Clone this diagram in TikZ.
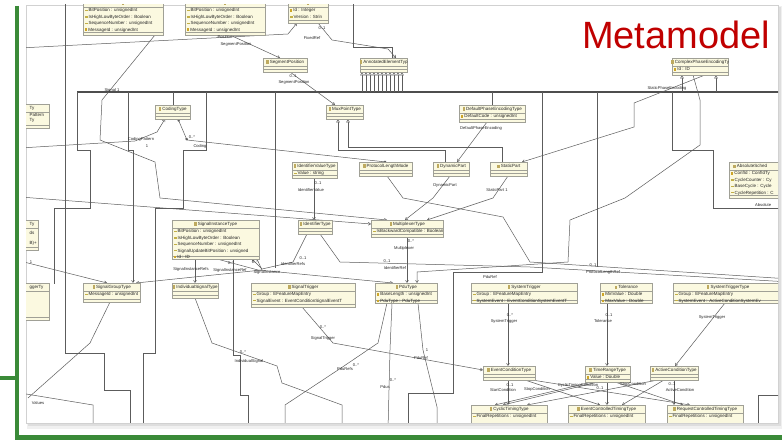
\documentclass[tikz,border=0pt]{standalone}
\usepackage{fontspec}
\setmainfont{Liberation Sans}
\usetikzlibrary{arrows.meta,calc}
\definecolor{greenA}{RGB}{58,138,56}
\definecolor{mtitle}{RGB}{192,0,0}
\definecolor{boxfill}{RGB}{251,249,224}
\definecolor{boxline}{RGB}{160,160,150}
\definecolor{conn}{RGB}{92,92,92}
\definecolor{attric}{RGB}{195,175,70}
\definecolor{keyic}{RGB}{205,165,40}
\definecolor{clsic}{RGB}{190,170,95}
\newcommand\attrI{{\color{attric}\rule[0.7pt]{2.4pt}{1.3pt}}\hspace{1pt}}
\newcommand\keyI{{\color{keyic}\rule[0.2pt]{2.2pt}{2.4pt}}\hspace{1pt}}
\newcommand\clsI{{\color{clsic}\rule[-0.3pt]{2.4pt}{3.3pt}}\hspace{1.2pt}}
\newcommand\clsbare[5]{%
  \node[clsbox, minimum width=#4pt, minimum height=#5pt] (#1) at (#2,#3) {};
  \draw[clssep] ($(#1.north west)+(0,8.3)$) -- ($(#1.north east)+(0,8.3)$);
  \draw[clssep] ($(#1.south west)+(0,-2.8)$) -- ($(#1.south east)+(0,-2.8)$);
}
\newcommand\cls[7]{%
  \clsbare{#1}{#2}{#3}{#4}{#5}
  \node[clstitle] (#1t) at ($(#1.north)+(0,4.2)$) {\clsI #6};
  \node[clsattr] (#1a) at ($(#1.north west)+(2,9.4)$) {#7};
}
\newcommand\lab[4]{\node[lbl] (#1) at (#2,#3) {#4};}
\begin{document}
\begin{tikzpicture}[x=1pt,y=-1pt,
 clsbox/.style={draw=boxline, fill=boxfill, anchor=north west, inner sep=0pt, line width=0.4pt},
 clssep/.style={draw=boxline, line width=0.3pt},
 clstitle/.style={inner sep=0pt, font=\fontsize{4.5}{5}\selectfont, text=black!85},
 clsattr/.style={anchor=north west, inner sep=0pt, align=left, font=\fontsize{4.5}{6.4}\selectfont, text=black!85},
 cn/.style={draw=conn, line width=0.5pt},
 ar/.style={cn, -{Straight Barb[length=2.3pt,width=2.9pt]}},
 gen/.style={cn, -{Triangle[open,fill=white,length=3.4pt,width=3.6pt]}},
 lbl/.style={inner sep=0pt, font=\fontsize{4.1}{4.5}\selectfont, text=black!85},
 bus/.style={draw=conn!85!black, line width=1.1pt}]
\useasboundingbox (0,0) rectangle (782,443);
\fill[white] (0,0) rectangle (782,443);
% panel with shadow
\fill[black!6] (27,6) rectangle (782,429);
\fill[black!13] (28,7) rectangle (780.5,426.5);
\fill[white] (26,5) rectangle (778,423);
\draw[black!18, line width=0.4pt] (26,5) rectangle (778,423);
\begin{scope}
\clip (26,5) rectangle (778,423);
% free ends
\coordinate (e1) at (20,48);
\coordinate (e3) at (20,197);
\coordinate (e4) at (20,148);
\coordinate (e10) at (353,0);
\coordinate (e29) at (790,279);
\coordinate (e33) at (790,282);
\coordinate (e38) at (20,261);
\coordinate (e39) at (28,398);
\coordinate (e40) at (20,393);
\coordinate (busL) at (77,92);
\coordinate (busR) at (790,92);
\coordinate (j5) at (187,140);
% ---------- connectors ----------
\draw[bus] (busL) -- (busR);
\foreach \k in {362,366,...,402} \draw[gen] (\k,92) -- (\k,72);
\draw[gen] (682,92) -- (682,75);
\draw[gen] (716,92) -- (716,75);
\draw[cn] (busL) -- (77,150) -- (90,150) -- (90,208) -- (54,208) -- (54,284);
\draw[ar] (128,92) -- (128,150) -- (133,150) -- (133,283);
\draw[cn] (173,92) -- (173,105);
\draw[cn] (206,92) -- (206,150) -- (183,150) -- (183,208) -- (155,208) -- (155,353) -- (143,353) -- (143,430);
\draw[cn] (275,92) -- (275,268);
\draw[cn] (492,92) -- (492,105);
\draw[cn] (542,92) -- (542,272) -- (453,272) -- (453,393) -- (408,393) -- (408,430);
\draw[cn] (597,92) -- (597,267);
\draw[cn] (672,92) -- (672,150) -- (713,150) -- (713,208) -- (790,208);
\draw[cn] (65,0) -- (65,353) -- (104,353) -- (104,390) -- (130,390) -- (130,430);
\draw[ar] (e1) -- (288,34) -- (297,23);
\draw[ar] (155,35) -- (102,100) -- (100,140) -- (155,162) -- (160,198) -- (387,220);
\draw[ar] (e3) -- (371,224);
\draw[ar] (e4) -- (135,141) -- (157,132) -- (165,119);
\draw[cn,{Diamond[length=3.2pt,width=2.4pt]}-{Square[length=2pt,width=2pt]}] (178,119) -- (j5);
\draw[cn,-{Square[length=2pt,width=2pt]}] (j5) -- (386,162);
\draw[ar] (230,35) -- (280,58);
\draw[ar] (290,72) -- (335,105);
\draw[ar] (318,23) -- (332,40) -- (388,49) -- (396,58);
\draw[cn] (e10) -- (353,47) -- (392,47) -- (392,58);
\draw[gen] (445,162) -- (445,150) -- (338,150) -- (338,119);
\draw[gen] (502,162) -- (502,147) -- (348,147) -- (348,119);
\draw[ar] (487,122) -- (457,162);
\draw[ar] (705,75) -- (634,103) -- (634,127) -- (522,162);
\draw[ar] (693,75) -- (700,100) -- (700,145) -- (625,198) -- (570,220) -- (568,262) -- (417,272) -- (417,283);
\draw[ar] (314,178) -- (314,220);
\draw[cn] (387,176) -- (403,198) -- (503,217) -- (530,262) -- (e29);
\draw[ar] (450,176) -- (433,198) -- (405,220);
\draw[ar] (508,176) -- (493,198) -- (427,220);
\draw[ar] (407,237) -- (407,283);
\draw[cn] (320,234) -- (340,262) -- (530,267) -- (e33);
\draw[ar] (307,234) -- (293,262) -- (262,269) -- (252,259);
\draw[ar] (217,259) -- (258,270) -- (393,283);
\draw[ar] (257,259) -- (262,270) -- (136,283);
\draw[ar] (195,259) -- (195,283);
\draw[ar] (e38) -- (107,283);
\draw[cn] (110,302) -- (90,343) -- (e39);
\draw[cn] (e40) -- (93,405) -- (93,430);
\draw[cn] (195,298) -- (212,343) -- (277,366) -- (282,383) -- (342,405) -- (342,430);
\draw[cn] (233,259) -- (233,355) -- (240,355) -- (240,395) -- (248,395) -- (248,430);
\draw[ar] (302,307) -- (333,343) -- (483,370);
\draw[cn] (387,303) -- (378,343) -- (341,368) -- (285,405) -- (285,430);
\draw[cn] (392,303) -- (390,350) -- (388,430);
\draw[cn] (418,303) -- (423,350) -- (437,407) -- (437,430);
\draw[ar] (508,303) -- (508,366);
\draw[ar] (607,303) -- (607,366);
\draw[ar] (725,303) -- (675,366);
\draw[ar] (508,380) -- (508,405);
\draw[ar] (525,380) -- (600,405);
\draw[ar] (532,380) -- (690,405);
\draw[ar] (592,382) -- (495,405);
\draw[ar] (598,382) -- (503,405);
\draw[ar] (607,382) -- (607,405);
\draw[ar] (615,382) -- (683,405);
\draw[ar] (658,380) -- (527,405);
\draw[ar] (664,380) -- (622,405);
\draw[ar] (674,380) -- (674,405);
\draw[cn] (758,430) -- (758,395) -- (790,395);
% ---------- classes ----------
\cls{topA}{83}{-1}{80}{36}{}{\attrI BitPosition : unsignedInt\\\attrI IsHighLowByteOrder : Boolean\\\attrI SequenceNumber : unsignedInt\\\keyI MessageId : unsignedInt}
\cls{topB}{185}{-1}{80}{36}{}{\attrI BitPosition : unsignedInt\\\attrI IsHighLowByteOrder : Boolean\\\attrI SequenceNumber : unsignedInt\\\keyI MessageId : unsignedInt}
\cls{topC}{288}{-1}{40}{24}{}{\keyI Id : Integer\\\attrI Version : Strin}
\cls{segpos}{263}{58}{44}{14}{SegmentPosition}{}
\cls{annot}{360}{58}{47}{14}{AnnotatedElementTyp}{}
\cls{coding}{155}{105}{35}{14}{CodingType}{}
\cls{mux}{326}{105}{37}{14}{MuxPointType}{}
\cls{defval}{459}{105}{66}{17}{DefaultPhaseEncodingType}{\keyI DefaultCode : unsignedInt}
\cls{complex}{672}{58}{56}{17}{ComplexPhaseEncodingTy}{\keyI Id : ID}
\clsbare{left1}{-12}{104}{61}{24}
\node[clstitle, anchor=west] (left1t) at (29.5,108) {Ty};
\node[clsattr, anchor=west] (left1a) at (29.5,114.5) {Pattern};
\node[clsattr, anchor=west] (left1b) at (29.5,120.5) {Ty};
\cls{idval}{292}{162}{45}{16}{IdentifierValueType}{\attrI Value : string}
\cls{protlen}{359}{162}{53}{14}{ProtocolLengthMode}{}
\cls{dyn}{433}{162}{36}{14}{DynamicPart}{}
\cls{stat}{490}{162}{37}{14}{StaticPart}{}
\clsbare{absol}{729}{162}{60}{36}
\node[clstitle, anchor=west] (absolt) at (733,166.2) {\clsI AbsoluteSched};
\node[clsattr] (absola) at (731,171.4) {\keyI ConfId : ConfIdTy\\\attrI CycleCounter : Cy\\\attrI BaseCycle : Cycle\\\attrI CycleRepetition : C};
\clsbare{left2}{-22}{220}{60}{30}
\node[clstitle, anchor=west] (left2t) at (29.5,224) {Ty};
\node[clsattr, anchor=west] (left2a) at (29.5,233) {ds};
\node[clsattr, anchor=west] (left2b) at (29.5,243) {B)+};
\cls{idtype}{298}{220}{34}{14}{IdentifierType}{}
\cls{sigins}{172}{220}{87}{39}{SignalInstanceType}{\attrI BitPosition : unsignedInt\\\attrI IsHighLowByteOrder : Boolean\\\attrI SequenceNumber : unsignedInt\\\attrI SignalUpdateBitPosition : unsigned\\\keyI Id : ID}
\cls{mult}{371}{220}{72}{17}{MultiplexerType}{\attrI IsBackwardCompatible : Boolean}
\cls{siggrp}{83}{283}{57}{19}{SignalGroupType}{\attrI MessageId : unsignedInt}
\cls{indsig}{172}{283}{46}{15}{IndividualSignalType}{}
\cls{sigtrig}{251}{283}{104}{24}{SignalTrigger}{\attrI Group : EFeatureMapEntry\\\attrI SignalEvent : EventConditionSignalEventT}
\cls{pdu}{375}{283}{62}{20}{PduType}{\keyI BaseLength : unsignedInt\\\keyI PduType : PduType}
\cls{systrig}{471}{283}{106}{20}{SystemTrigger}{\attrI Group : EFeatureMapEntry\\\attrI SystemEvent : EventConditionSystemEventT}
\cls{tol}{600}{283}{52}{20}{Tolerance}{\keyI MinValue : Double\\\keyI MaxValue : Double}
\cls{systrigt}{673}{283}{110}{20}{SystemTriggerType}{\attrI Group : EFeatureMapEntry\\\attrI SystemEvent : ActiveConditionSystemEv}
\clsbare{left3}{-12}{283}{61}{37}
\node[clstitle, anchor=west] (left3t) at (29.5,287.2) {ggerTy};
\cls{evcond}{483}{366}{52}{14}{EventConditionType}{}
\cls{trange}{585}{366}{45}{16}{TimeRangeType}{\keyI Value : Double}
\cls{actcond}{650}{366}{48}{14}{ActiveConditionType}{}
\cls{cyclic}{471}{405}{76}{22}{CyclicTimingType}{\attrI FinalRepetitions : unsignedInt}
\cls{evtim}{568}{405}{77}{22}{EventControlledTimingType}{\attrI FinalRepetitions : unsignedInt}
\cls{reqtim}{667}{405}{76}{22}{RequestControlledTimingType}{\attrI FinalRepetitions : unsignedInt}
% ---------- labels ----------
\lab{l1}{112}{90}{Signal 1}
\lab{l2}{225}{37}{Position}
\lab{l3}{236}{44}{SegmentPosition}
\lab{l4}{322}{28}{0..1}
\lab{l5}{312}{38}{FixedRef}
\lab{l6}{293}{76}{0..1}
\lab{l7}{294}{82}{SegmentPosition}
\lab{l8}{141}{139}{CodingPattern}
\lab{l9}{147}{146}{1}
\lab{l10}{192}{137}{0..*}
\lab{l11}{200}{146}{Coding}
\lab{l12}{667}{88}{StaticPhaseEncoding}
\lab{l13}{481}{128}{DefaultPhaseEncoding}
\lab{l14}{318}{183}{0..1}
\lab{l15}{311}{190}{IdentifierValue}
\lab{l16}{445}{185}{DynamicPart}
\lab{l17}{497}{190}{StaticPart 1}
\lab{l18}{411}{241}{0..*}
\lab{l19}{404}{248}{Multiplexer}
\lab{l20}{387}{261}{0..1}
\lab{l21}{395}{268}{IdentifierRef}
\lab{l22}{593}{265}{0..1}
\lab{l23}{603}{272}{ProtocolLengthRef}
\lab{l24}{490}{277}{PduRef}
\lab{l25}{293}{264}{IdentifierRefs}
\lab{l26}{303}{258}{0..1}
\lab{l27}{191}{269}{SignalInstanceRefs}
\lab{l28}{230}{270}{SignalInstanceRef}
\lab{l29}{267}{272}{SignalInstance}
\lab{l30}{231}{263}{0..*}
\lab{l31}{255}{262}{0..*}
\lab{l32}{31}{262}{1}
\lab{l33}{38}{403}{Values}
\lab{l34}{243}{352}{0..*}
\lab{l35}{249}{361}{IndividualSignal}
\lab{l36}{323}{327}{0..*}
\lab{l37}{323}{338}{SignalTrigger}
\lab{l38}{345}{369}{PduRefs}
\lab{l39}{356}{365}{0..*}
\lab{l40}{393}{380}{0..*}
\lab{l41}{385}{387}{Pdus}
\lab{l42}{427}{350}{1}
\lab{l43}{421}{358}{PduRef}
\lab{l44}{510}{315}{0..*}
\lab{l45}{504}{321}{SystemTrigger}
\lab{l46}{609}{315}{0..1}
\lab{l47}{603}{321}{Tolerance}
\lab{l48}{712}{317}{SystemTrigger}
\lab{l49}{510}{385}{0..1}
\lab{l50}{503}{390}{StartCondition}
\lab{l51}{537}{389}{StopCondition}
\lab{l52}{578}{385}{CyclicTimingCondition}
\lab{l53}{600}{388}{0..1}
\lab{l54}{633}{384}{StopCondition}
\lab{l55}{672}{384}{0..1}
\lab{l56}{680}{390}{ActiveCondition}
\node[lbl, anchor=west] (l57) at (755,205) {Absolute};
\end{scope}
% green frame
\draw[greenA, line width=4.5pt, line join=miter] (17,6) -- (17,437.5) -- (784,437.5);
\draw[greenA, line width=4.5pt] (-2,378) -- (17,378);
% title
\node[anchor=base west, inner sep=0pt, text=mtitle, font=\fontsize{38}{40}\selectfont] (title) at (582,49) {Metamodel};
\end{tikzpicture}
\end{document}
